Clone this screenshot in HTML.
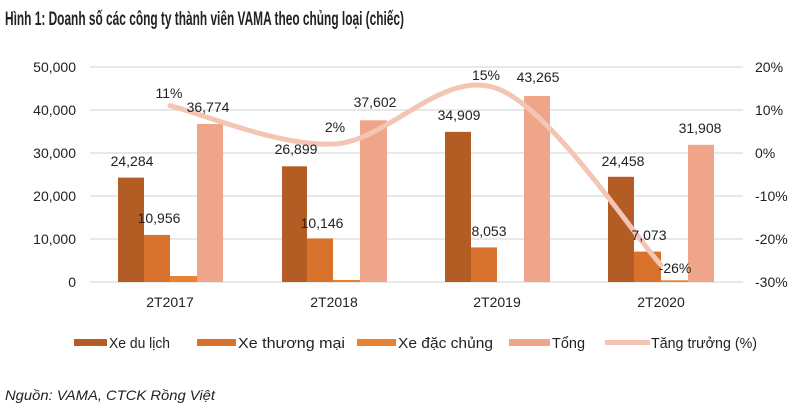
<!DOCTYPE html>
<html><head><meta charset="utf-8"><style>
html,body{margin:0;padding:0;background:#fff;}
svg text{font-family:"Liberation Sans",sans-serif;fill:#222;}
</style></head><body>
<svg width="800" height="413" viewBox="0 0 800 413" xmlns="http://www.w3.org/2000/svg">
<text x="5" y="25" font-size="19" font-weight="bold" textLength="399" lengthAdjust="spacingAndGlyphs">Hình 1: Doanh số các công ty thành viên VAMA theo chủng loại (chiếc)</text>
<g stroke="#d9d9d9" stroke-width="1.2">
<line x1="90" y1="67" x2="743" y2="67"/><line x1="90" y1="110" x2="743" y2="110"/>
<line x1="90" y1="153" x2="743" y2="153"/><line x1="90" y1="196" x2="743" y2="196"/>
<line x1="90" y1="239" x2="743" y2="239"/><line x1="90" y1="282" x2="743" y2="282"/>
</g>
<g font-size="14" text-anchor="end">
<text x="76" y="72">50,000</text><text x="76" y="115">40,000</text><text x="76" y="158">30,000</text>
<text x="76" y="201">20,000</text><text x="76" y="244">10,000</text><text x="76" y="287">0</text>
</g>
<g font-size="14">
<text x="755" y="72">20%</text><text x="755" y="115">10%</text><text x="755" y="158">0%</text>
<text x="755" y="201">-10%</text><text x="755" y="244">-20%</text><text x="755" y="287">-30%</text>
</g>
<g font-size="14" text-anchor="middle">
<text x="170" y="307">2T2017</text><text x="334" y="307">2T2018</text>
<text x="497" y="307">2T2019</text><text x="661" y="307">2T2020</text>
</g>
<g>
<rect x="118" y="177.6" width="26" height="104.4" fill="#B35D24"/>
<rect x="144" y="234.9" width="26" height="47.1" fill="#D8732E"/>
<rect x="170" y="276" width="27" height="6" fill="#EB8230"/>
<rect x="197" y="123.9" width="26" height="158.1" fill="#EFA58A"/>
<rect x="282" y="166.3" width="25" height="115.7" fill="#B35D24"/>
<rect x="307" y="238.4" width="26" height="43.6" fill="#D8732E"/>
<rect x="333" y="280" width="27" height="2" fill="#EB8230"/>
<rect x="360" y="120.3" width="27" height="161.7" fill="#EFA58A"/>
<rect x="445" y="131.9" width="26" height="150.1" fill="#B35D24"/>
<rect x="471" y="247.4" width="26" height="34.6" fill="#D8732E"/>
<rect x="524" y="96" width="26" height="186" fill="#EFA58A"/>
<rect x="608" y="176.8" width="26" height="105.2" fill="#B35D24"/>
<rect x="634" y="251.6" width="27" height="30.4" fill="#D8732E"/>
<rect x="661" y="280.3" width="27" height="1.7" fill="#EB8230"/>
<rect x="688" y="144.8" width="26" height="137.2" fill="#EFA58A"/>
</g>
<path d="M170,105.7 C197.3,112.1 279.5,146.9 334,144 C388.5,141.1 442.5,68.3 497,88.5 C551.5,108.7 633.7,235.6 661,265" fill="none" stroke="#F3C6B3" stroke-width="5" stroke-linecap="round"/>
<g font-size="14" text-anchor="middle">
<text x="169" y="98">11%</text><text x="208" y="112">36,774</text>
<text x="132" y="166">24,284</text><text x="159" y="223">10,956</text>
<text x="335" y="132">2%</text><text x="375" y="107">37,602</text>
<text x="296" y="154">26,899</text><text x="322" y="228">10,146</text>
<text x="486" y="80">15%</text><text x="538" y="82">43,265</text>
<text x="459" y="120">34,909</text><text x="489" y="236">8,053</text>
<text x="700" y="133">31,908</text><text x="623" y="166">24,458</text>
<text x="649" y="240">7,073</text><text x="675" y="273">-26%</text>
</g>
<g font-size="15">
<rect x="74" y="339" width="33" height="7" fill="#B35D24"/><text x="109" y="348" textLength="61" lengthAdjust="spacingAndGlyphs">Xe du lịch</text>
<rect x="197" y="339" width="39" height="7" fill="#D8732E"/><text x="238" y="348" textLength="107" lengthAdjust="spacingAndGlyphs">Xe thương mại</text>
<rect x="357" y="339" width="39" height="7" fill="#EB8230"/><text x="398" y="348" textLength="95" lengthAdjust="spacingAndGlyphs">Xe đặc chủng</text>
<rect x="509" y="339" width="41" height="7" fill="#EFA58A"/><text x="552" y="348" textLength="33" lengthAdjust="spacingAndGlyphs">Tổng</text>
<rect x="605" y="340" width="45" height="5" fill="#F3C6B3"/><text x="651" y="348" textLength="106" lengthAdjust="spacingAndGlyphs">Tăng trưởng (%)</text>
</g>
<text x="5" y="400" font-size="14" font-style="italic" textLength="210" lengthAdjust="spacingAndGlyphs">Nguồn: VAMA, CTCK Rồng Việt</text>
</svg>
</body></html>
